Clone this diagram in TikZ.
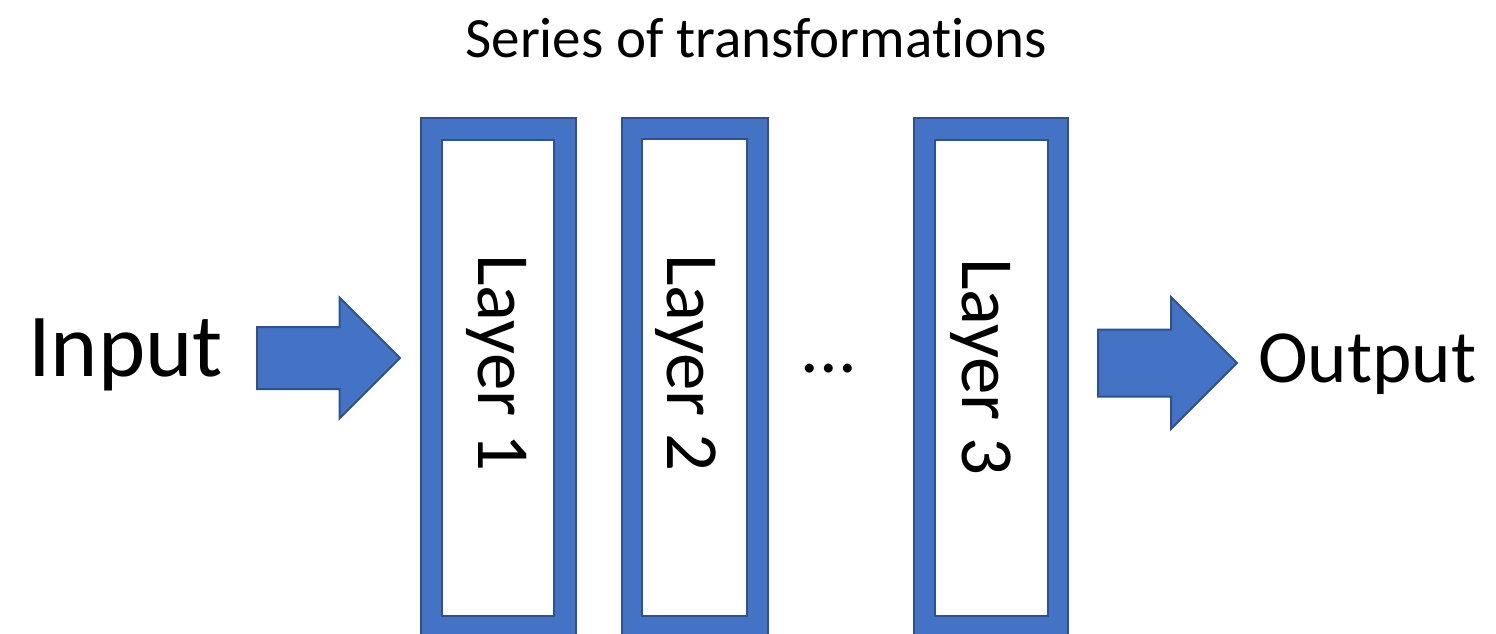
\documentclass[tikz,border=0pt]{standalone}
\usepackage{fontspec}
\setmainfont{Carlito}[Ligatures=NoCommon]
\usetikzlibrary{shapes.arrows}
\definecolor{layblue}{HTML}{4472C4}
\definecolor{layedge}{HTML}{2F528F}
\tikzset{
  outerbox/.style={rectangle, fill=layblue, draw=layedge, line width=2pt, inner sep=0pt},
  innerbox/.style={rectangle, fill=white, draw=layedge, line width=2pt, inner sep=0pt},
  blockarrow/.style={single arrow, fill=layblue, draw=layedge, line width=2pt, inner xsep=0pt, single arrow tip angle=90, anchor=tail},
  laytext/.style={rotate=-90, anchor=base, inner sep=0pt, font=\fontsize{75}{80}\selectfont}
}
\begin{document}
\begin{tikzpicture}[x=1pt,y=-1pt]
\useasboundingbox (0,0) rectangle (1496,633);
\clip (0,0) rectangle (1496,633);
\node[anchor=base, inner sep=0pt, font=\fontsize{57}{60}\selectfont] (title) at (756,57){Series of transformations};
\node[anchor=base west, inner sep=0pt, font=\fontsize{90}{92}\selectfont] (input) at (28,376){Input};
\node[blockarrow, inner ysep=30pt, single arrow head extend=29.5pt, minimum height=143pt] (arrin) at (256,358){};
\node[outerbox, minimum width=155pt, minimum height=519pt] (lay1) at (498.5,377.5){};
\node[innerbox, minimum width=112pt, minimum height=476pt] (lay1in) at (498,378){};
\node[laytext] (lay1txt) at (478,363){Layer 1};
\node[outerbox, minimum width=146pt, minimum height=519pt] (lay2) at (695,377.5){};
\node[innerbox, minimum width=105pt, minimum height=477pt] (lay2in) at (694.5,377.5){};
\node[laytext] (lay2txt) at (667,363){Layer 2};
\node[anchor=base, inner sep=0pt, font=\fontsize{74}{80}\selectfont] (dots) at (829,372){...};
\node[outerbox, minimum width=154pt, minimum height=519pt] (lay3) at (991,377.5){};
\node[innerbox, minimum width=113pt, minimum height=476pt] (lay3in) at (991.5,378){};
\node[laytext] (lay3txt) at (962,367){Layer 3};
\node[blockarrow, inner ysep=32.5pt, single arrow head extend=32.5pt, minimum height=139pt] (arrout) at (1097,363){};
\node[anchor=base west, inner sep=0pt, font=\fontsize{75}{80}\selectfont] (output) at (1258,382){Output};
\end{tikzpicture}
\end{document}
